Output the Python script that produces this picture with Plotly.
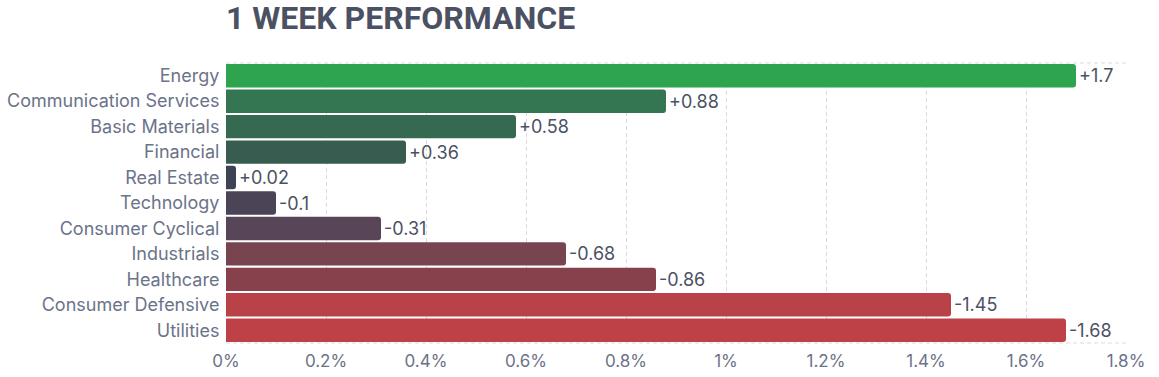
import plotly.graph_objects as go

sectors = ["Energy", "Communication Services", "Basic Materials", "Financial", "Real Estate",
           "Technology", "Consumer Cyclical", "Industrials", "Healthcare", "Consumer Defensive", "Utilities"]
changes = [1.7, 0.88, 0.58, 0.36, 0.02, -0.1, -0.31, -0.68, -0.86, -1.45, -1.68]
bar_colors = ["#2ea44f", "#347651", "#366a50", "#385c50", "#3d4354", "#4a4456", "#584557",
              "#784450", "#87414c", "#b94249", "#bd4146"]
x_ticks = [0, 0.2, 0.4, 0.6, 0.8, 1.0, 1.2, 1.4, 1.6, 1.8]
x_tick_labels = ["0%", "0.2%", "0.4%", "0.6%", "0.8%", "1%", "1.2%", "1.4%", "1.6%", "1.8%"]

labels = [("+" if v > 0 else "") + f"{v:g}" for v in changes]

fig = go.Figure(go.Bar(
    x=[abs(v) for v in changes],
    y=sectors,
    orientation="h",
    marker=dict(color=bar_colors, cornerradius=3, line=dict(width=0)),
    text=labels,
    textposition="outside",
    cliponaxis=False,
    textfont=dict(family="Inter", size=18, color="#4b5163"),
    hoverinfo="skip",
))

grid_col = "#dadbe0"
fig.update_layout(
    width=1159, height=377,
    margin=dict(l=226, r=33, t=63, b=34, autoexpand=False),
    paper_bgcolor="white", plot_bgcolor="white",
    bargap=0.08,
    showlegend=False,
    title=dict(text="<b>1 WEEK PERFORMANCE</b>", x=226 / 1159, xanchor="left", y=1 - 18 / 377, yanchor="middle",
               font=dict(family="Roboto", size=32, color="#4b5163")),
    xaxis=dict(range=[0, 1.8], tickvals=x_ticks, ticktext=x_tick_labels, automargin=False,
               showgrid=True, gridcolor=grid_col, griddash="4px,3px", gridwidth=1,
               zeroline=False, showline=False,
               tickfont=dict(family="Inter", size=17, color="#6b7389"),
               ticks="outside", ticklen=3, tickcolor="rgba(0,0,0,0)"),
    yaxis=dict(autorange="reversed", showgrid=False, zeroline=False, showline=False, automargin=False,
               tickfont=dict(family="Inter", size=18, color="#6b7389"),
               ticks="outside", ticklen=2, tickcolor="rgba(0,0,0,0)"),
    shapes=[
        dict(type="line", xref="paper", yref="paper", x0=0, x1=1, y0=1, y1=1,
             line=dict(color=grid_col, width=1, dash="4px,3px")),
        dict(type="line", xref="paper", yref="paper", x0=0, x1=1, y0=0, y1=0,
             line=dict(color=grid_col, width=1, dash="4px,3px")),
    ],
)

fig.write_html("out.html", post_script="document.body.style.margin='0';",
               config={"displayModeBar": False})
